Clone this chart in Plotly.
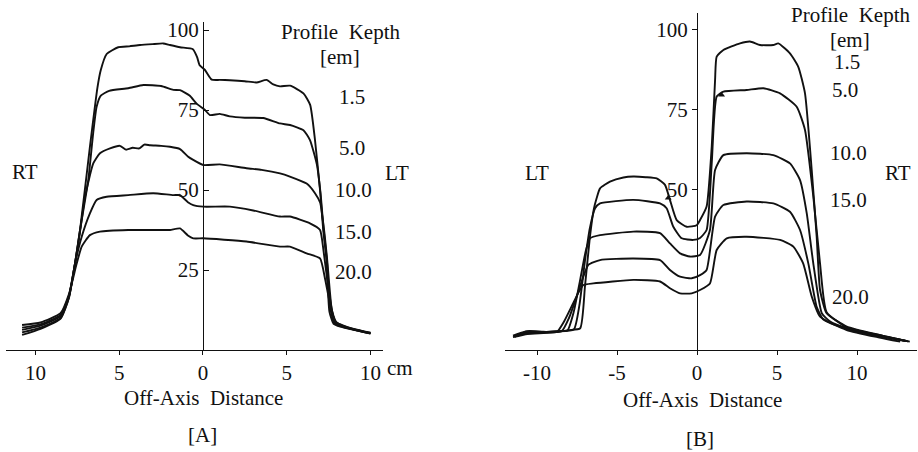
import plotly.graph_objects as go

# ---------------- Panel A data (off-axis distance cm, relative dose %) ----------------
a_depths = ["1.5", "5.0", "10.0", "15.0", "20.0"]

a_x_15 = [-10.8, -9.7, -8.5, -8.0, -7.64, -7.34, -6.75, -6.3, -6.1, -5.75, -5.06, -4.4, -3.76, -3.0, -2.37,
          -1.97, -1.37, -0.6, -0.35, -0.2, 0.12, 0.52, 1.0, 1.61, 2.5, 3.2, 3.8, 4.2, 4.6, 5.2, 6.0, 6.4,
          6.69, 6.99, 7.18, 7.38, 7.55, 7.8, 8.2, 9.0, 10.0]
a_y_15 = [4.7, 6.6, 9.8, 16.3, 27, 37.5, 63.5, 82, 87.5, 92.5, 94.6, 94.9, 95.3, 95.6, 95.8,
          95.3, 94.6, 94.0, 91.5, 89.0, 87.5, 84.5, 84.4, 84.3, 84.0, 83.6, 84.4, 83.0, 82.4, 82.6, 80.2, 76.6,
          65.6, 50, 37.5, 28, 12, 8.2, 7.3, 6.3, 5.1]

a_x_50 = [-10.8, -9.7, -8.5, -8.0, -7.64, -7.34, -6.85, -6.55, -6.35, -6.1, -5.6, -4.46, -3.56, -2.5, -1.77,
          -1.37, -0.8, -0.38, 0.12, 0.42, 1.0, 1.6, 2.5, 3.6, 4.6, 5.2, 6.0, 6.39, 6.8, 7.02, 7.2, 7.4,
          7.6, 7.85, 8.2, 9.0, 10.0]
a_y_50 = [5.5, 7.0, 10.0, 16.5, 27, 37.5, 53, 68, 76, 79.5, 81, 81.8, 82.8, 82.5, 81.3,
          81.2, 79.5, 77, 75, 73.4, 73.8, 73, 72.6, 72.5, 70.8, 70.3, 68.7, 65.6, 58, 49, 38, 28,
          13, 8.4, 7.5, 6.4, 5.2]

a_x_100 = [-10.8, -9.7, -8.5, -8.0, -7.64, -7.34, -7.04, -6.55, -6.15, -5.55, -4.96, -4.6, -4.2, -3.8, -3.5,
           -3.16, -2.5, -1.97, -1.37, -0.9, -0.58, 0.02, 1.0, 2.6, 3.5, 4.6, 5.19, 6.19, 6.69, 7.0, 7.22,
           7.42, 7.68, 7.9, 8.2, 9.0, 10.0]
a_y_100 = [6.3, 7.6, 10.6, 16.8, 27, 37, 47.9, 58.3, 61.5, 63, 63.8, 62.6, 63.2, 63.0, 64.2,
           64, 63.8, 63.5, 62.8, 60.5, 59.4, 57.8, 58, 56.8, 56.3, 55.2, 54.2, 52, 49, 46, 38,
           28, 13, 8.6, 7.6, 6.4, 5.2]

a_x_150 = [-10.8, -9.7, -8.5, -8.0, -7.64, -7.24, -6.75, -6.35, -5.75, -4.46, -2.97, -1.77, -1.37, -0.9, -0.58,
           0.02, 1.61, 3.0, 4.6, 5.19, 6.39, 6.99, 7.2, 7.42, 7.72, 7.95, 8.3, 9.0, 10.0]
a_y_150 = [7.0, 8.0, 11.0, 17.0, 27, 35.4, 42.7, 46.9, 47.9, 48.4, 49, 48.4, 48.4, 46.2, 45.3,
           44.8, 44.8, 43.6, 41.7, 41.7, 39.6, 37.5, 31, 22, 12, 8.8, 7.7, 6.5, 5.3]

a_x_200 = [-10.8, -9.7, -8.5, -8.0, -7.54, -7.24, -6.75, -6.15, -4.46, -2.57, -1.97, -1.37, -0.9, -0.58,
           0.02, 2.6, 4.6, 5.19, 6.19, 6.99, 7.3, 7.6, 7.9, 8.3, 9.0, 10.0]
a_y_200 = [7.8, 8.6, 11.5, 17.5, 27, 32.3, 35.9, 37, 37.5, 37.5, 37.5, 38, 35.8, 34.9,
           34.9, 33.9, 32.3, 32.3, 30.2, 28.6, 22, 14, 8.9, 7.8, 6.6, 5.4]

# ---------------- Panel B data ----------------
b_x_15 = [-11.5, -10.6, -9.6, -8.8, -8.0, -7.3, -7.0, -6.7, -6.45, -6.27, -6.06, -5.44, -4.6, -3.98, -3.2,
          -2.52, -2.0, -1.69, -1.27, -0.64, -0.02, 0.19, 0.6, 0.92, 1.13, 1.23, 1.65, 2.69, 3.31, 3.94,
          4.77, 5.08, 5.81, 6.33, 6.75, 7.17, 7.48, 7.69, 8.1, 9.36, 11.4, 13.3]
b_y_15 = [4.0, 5.0, 5.3, 5.6, 6.2, 6.8, 20, 35, 44, 47.5, 50.5, 52.6, 53.9, 54.2, 54.0,
          53.6, 51.6, 46.9, 40.6, 38.5, 39, 40.6, 44.8, 63.5, 84.4, 91.7, 93.75, 95.8, 96.4, 95.3,
          95.3, 95.8, 92.7, 88.5, 80.2, 56.25, 35.4, 18.75, 11.5, 7.3, 4.7, 2.6]

b_x_50 = [-11.4, -10.6, -9.6, -8.8, -7.7, -7.35, -7.0, -6.7, -6.37, -6.06, -3.98, -2.31, -1.9, -1.48, -0.96,
          -0.23, 0.19, 0.6, 0.92, 1.23, 1.65, 3.1, 4.15, 5.19, 6.23, 6.75, 7.27, 7.69, 8.1, 9.36, 11.4, 13.2]
b_y_50 = [4.3, 5.4, 5.5, 5.8, 6.4, 14, 28, 38, 44.3, 45.8, 46.9, 45.8, 44.3, 38.5, 34.9,
          34.4, 35, 37.5, 58.3, 79.2, 80.7, 81.25, 81.8, 80.2, 76, 68.75, 47.9, 27, 11.8, 7.1, 4.6, 2.7]

b_x_100 = [-11.3, -10.5, -9.6, -8.8, -8.1, -7.7, -7.3, -6.95, -6.69, -6.06, -3.98, -2.31, -1.69, -1.06, -0.44,
           0.19, 0.81, 1.13, 1.65, 3.1, 4.77, 5.81, 6.44, 6.86, 7.27, 7.8, 8.3, 9.36, 11.4, 13.1]
b_y_100 = [4.6, 5.6, 5.6, 5.9, 6.1, 12, 22, 31, 34.9, 35.9, 37, 36.5, 33.3, 30.2, 29.2,
           29.7, 37.5, 56.25, 60.9, 61.5, 60.9, 58.3, 53.1, 42.7, 27, 11.5, 9, 6.9, 4.5, 2.8]

b_x_150 = [-11.5, -10.7, -9.6, -8.45, -8.0, -7.5, -7.1, -6.79, -6.06, -3.98, -2.31, -1.69, -1.06, -0.33, 0.19,
           0.6, 1.13, 1.65, 3.1, 4.77, 5.81, 6.44, 6.96, 7.48, 7.9, 9.36, 11.4, 13.0]
b_y_150 = [4.5, 5.8, 5.5, 5.9, 10, 17, 23, 26.6, 28.1, 28.6, 28.1, 25, 22.9, 22.4, 23.4,
           25, 41.7, 45.3, 46.4, 45.8, 43.2, 37.5, 27, 13.5, 9.5, 6.6, 4.3, 2.9]

b_x_200 = [-11.4, -10.6, -9.6, -8.75, -8.3, -7.8, -7.4, -7.1, -6.48, -3.98, -2.31, -1.69, -1.06, -0.33, 0.19,
           0.81, 1.23, 1.86, 3.1, 5.19, 6.02, 6.64, 7.17, 7.69, 9.36, 11.4, 12.7]
b_y_200 = [4.1, 5.9, 5.7, 5.7, 9, 14, 18, 20.3, 20.8, 21.9, 21.4, 19.3, 17.7, 17.7, 18.75,
           20.8, 31.25, 34.9, 35.4, 34.4, 32.3, 27, 16.7, 10.4, 6.25, 3.9, 2.6]

b_arrow_x = [-1.8, 1.54]
b_arrow_y = [47.5, 79.7]

a_ticks = [-10, -5, 0, 5, 10]
a_ticktext = ["10", "5", "0", "5", "10"]
b_ticks = [-10, -5, 0, 5, 10]
b_ticktext = ["-10", "-5", "0", "5", "10"]
a_yticks = [25, 50, 75, 100]
b_yticks = [50, 75, 100]

FONT = "Liberation Serif"
INK = "#111111"
W, H = 918, 452
FS = 21

fig = go.Figure()
line = dict(color=INK, width=1.9, shape="spline", smoothing=0.5)
for xs, ys, name in zip([a_x_15, a_x_50, a_x_100, a_x_150, a_x_200],
                        [a_y_15, a_y_50, a_y_100, a_y_150, a_y_200], a_depths):
    fig.add_trace(go.Scatter(x=xs, y=ys, mode="lines", line=line, name=name,
                             xaxis="x", yaxis="y", showlegend=False))
for xs, ys, name in zip([b_x_15, b_x_50, b_x_100, b_x_150, b_x_200],
                        [b_y_15, b_y_50, b_y_100, b_y_150, b_y_200], a_depths):
    fig.add_trace(go.Scatter(x=xs, y=ys, mode="lines", line=line, name=name,
                             xaxis="x2", yaxis="y2", showlegend=False))
fig.add_trace(go.Scatter(x=b_arrow_x, y=b_arrow_y, mode="markers", xaxis="x2", yaxis="y2",
                         marker=dict(symbol="triangle-up", size=6, color=INK), showlegend=False))


def px(x):
    return x / W


def py(y):
    return 1 - y / H


tickfont = dict(family=FONT, size=FS, color=INK)
common_x = dict(showline=True, linecolor=INK, linewidth=1.2, ticks="outside", ticklen=4,
                tickcolor=INK, showgrid=False, zeroline=False, tickfont=tickfont, automargin=False)
common_y = dict(showline=True, linecolor=INK, linewidth=1, showgrid=False, zeroline=False,
                tickfont=tickfont, tickcolor=INK, ticklen=5, anchor="free", automargin=False)

fig.update_layout(
    width=W, height=H, margin=dict(l=0, r=0, t=0, b=0, pad=0), autosize=False,
    paper_bgcolor="white", plot_bgcolor="white",
    font=dict(family=FONT, size=FS, color=INK),
    xaxis=dict(domain=[px(6), px(383)], range=[-11.76, 10.75], anchor="y",
               tickvals=a_ticks, ticktext=a_ticktext, **common_x),
    yaxis=dict(domain=[py(350), py(22)], range=[0, 102.5], position=px(203),
               tickvals=a_yticks, ticks="inside", **common_y),
    xaxis2=dict(domain=[px(505), px(917)], range=[-12, 13.75], anchor="y2",
                tickvals=b_ticks, ticktext=b_ticktext, **common_x),
    yaxis2=dict(domain=[py(350), py(13)], range=[0, 105.3], position=px(697),
                tickvals=b_yticks, ticks="outside", **common_y),
)

labels = [
    ("Profile  Kepth", 340, 32), ("[em]", 340, 57),
    ("1.5", 352, 97), ("5.0", 352, 148), ("10.0", 353, 190), ("15.0", 353, 232), ("20.0", 353, 272),
    ("RT", 25, 172), ("LT", 397, 173), ("Off-Axis  Distance", 203, 398), ("[A]", 202, 435),
    ("cm", 400, 368),
    ("Profile  Kepth", 850, 15), ("[em]", 850, 40),
    ("1.5", 847, 62), ("5.0", 845, 90), ("10.0", 848, 153), ("15.0", 848, 200), ("20.0", 850, 297),
    ("LT", 537, 173), ("RT", 898, 173), ("Off-Axis  Distance", 702, 400), ("[B]", 700, 439),
]
for text, x, y in labels:
    fig.add_annotation(text=text, x=px(x), y=py(y), xref="paper", yref="paper",
                       showarrow=False, xanchor="center", yanchor="middle",
                       font=dict(family=FONT, size=FS, color=INK))

fig.write_html("out.html", config={"displayModeBar": False},
               post_script="document.body.style.margin='0';document.body.style.padding='0';"
                           "document.documentElement.style.overflow='hidden';")
